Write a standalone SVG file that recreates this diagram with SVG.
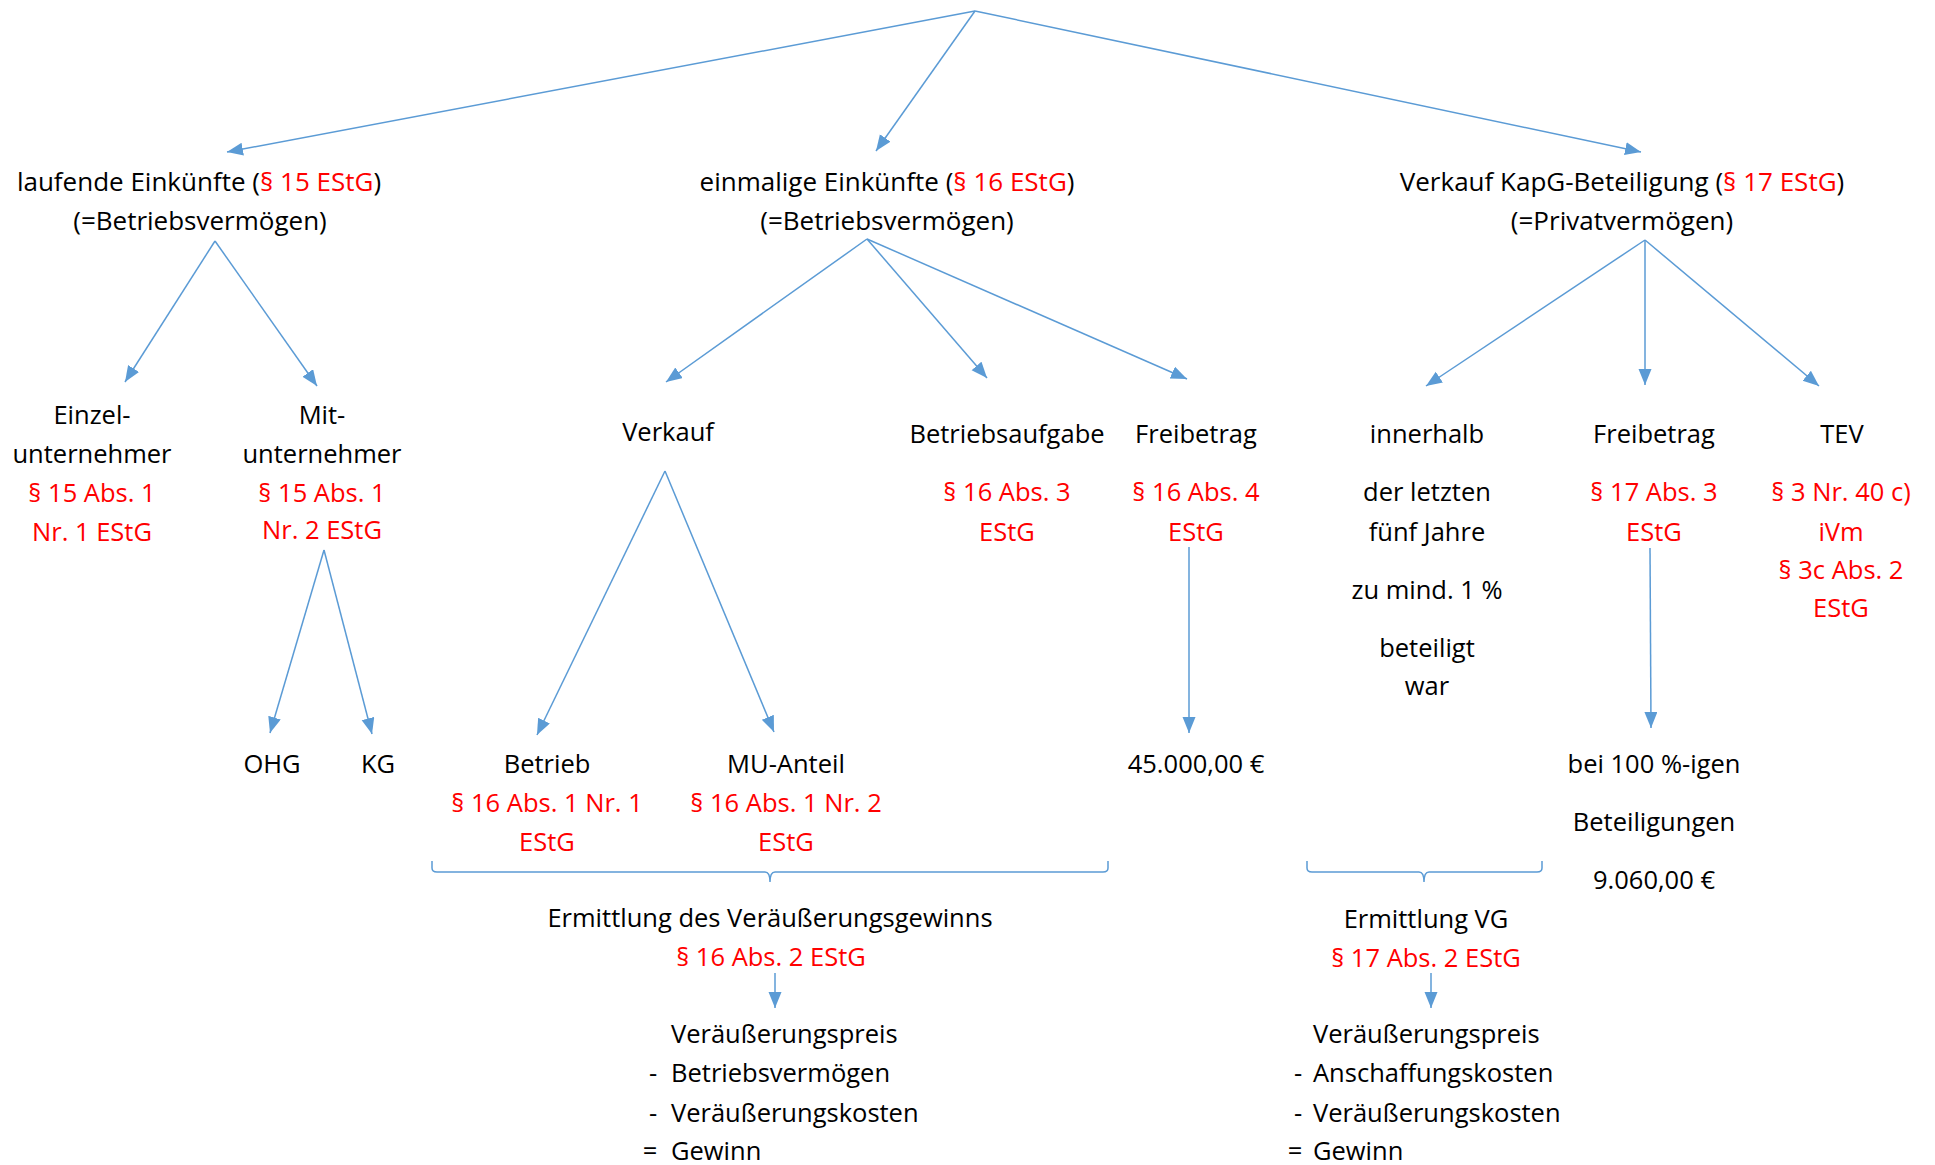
<svg xmlns="http://www.w3.org/2000/svg" width="1935" height="1165" viewBox="0 0 1935 1165">
<style>
text { font-family: "Open Sans", "Noto Sans", "Liberation Sans", sans-serif; font-size: 25.5px; fill: #000000; }
.t1 { font-size: 26px; }
.c { text-anchor: middle; }
.r { fill: #FF0000; }
.ln { stroke: #5B9BD5; stroke-width: 1.5; fill: none; marker-end: url(#ah); }
.br { stroke: #5B9BD5; stroke-width: 1.5; fill: none; }
</style>
<defs>
<marker id="ah" markerUnits="userSpaceOnUse" markerWidth="17" markerHeight="14" refX="16" refY="6.5" orient="auto">
<path d="M0,0 L16,6.5 L0,13 Z" fill="#5B9BD5"/>
</marker>
</defs>
<rect width="1935" height="1165" fill="#FFFFFF"/>

<g id="connectors">
<line class="ln" x1="975" y1="11" x2="227" y2="152"/>
<line class="ln" x1="975" y1="11" x2="876" y2="151"/>
<line class="ln" x1="975" y1="11" x2="1641" y2="152"/>
<line class="ln" x1="215" y1="241" x2="125" y2="382"/>
<line class="ln" x1="215" y1="241" x2="317" y2="386"/>
<line class="ln" x1="867" y1="239" x2="666" y2="382"/>
<line class="ln" x1="867" y1="239" x2="987" y2="378"/>
<line class="ln" x1="867" y1="239" x2="1187" y2="379"/>
<line class="ln" x1="1645" y1="240" x2="1426" y2="386"/>
<line class="ln" x1="1645" y1="240" x2="1645" y2="385"/>
<line class="ln" x1="1645" y1="240" x2="1819" y2="386"/>
<line class="ln" x1="324" y1="550" x2="270" y2="733"/>
<line class="ln" x1="324" y1="550" x2="372" y2="734"/>
<line class="ln" x1="665" y1="471" x2="537" y2="735"/>
<line class="ln" x1="665" y1="471" x2="774" y2="732"/>
<line class="ln" x1="1189" y1="547" x2="1189" y2="733"/>
<line class="ln" x1="1650" y1="548" x2="1651" y2="728"/>
<line class="ln" x1="775" y1="973" x2="775" y2="1008"/>
<line class="ln" x1="1431" y1="973" x2="1431" y2="1008"/>
<path class="br" d="M432,861 L432,868 Q432,872 437,872 L765,872 Q770,872 770,882 Q770,872 775,872 L1103,872 Q1108,872 1108,868 L1108,861"/>
<path class="br" d="M1307,861 L1307,868 Q1307,872 1312,872 L1419,872 Q1424,872 1424,882 Q1424,872 1429,872 L1537,872 Q1542,872 1542,868 L1542,861"/>
</g>

<g id="laufende">
<text class="c t1" x="199" y="191">laufende Einkünfte (<tspan class="r">§ 15 EStG</tspan>)</text>
<text class="c t1" x="200" y="230">(=Betriebsvermögen)</text>
</g>
<g id="einmalige">
<text class="c t1" x="887" y="191">einmalige Einkünfte (<tspan class="r">§ 16 EStG</tspan>)</text>
<text class="c t1" x="887" y="230">(=Betriebsvermögen)</text>
</g>
<g id="kapg">
<text class="c t1" x="1622" y="191">Verkauf KapG-Beteiligung (<tspan class="r">§ 17 EStG</tspan>)</text>
<text class="c t1" x="1622" y="230">(=Privatvermögen)</text>
</g>

<g id="einzel">
<text class="c" x="92" y="424">Einzel-</text>
<text class="c" x="92" y="463">unternehmer</text>
<text class="c r" x="92" y="502">§ 15 Abs. 1</text>
<text class="c r" x="92" y="541">Nr. 1 EStG</text>
</g>
<g id="mit">
<text class="c" x="322" y="424">Mit-</text>
<text class="c" x="322" y="463">unternehmer</text>
<text class="c r" x="322" y="502">§ 15 Abs. 1</text>
<text class="c r" x="322" y="539">Nr. 2 EStG</text>
</g>
<g id="ohg"><text class="c" x="272" y="773">OHG</text></g>
<g id="kg"><text class="c" x="378" y="773">KG</text></g>

<g id="verkauf"><text class="c" x="668" y="441">Verkauf</text></g>
<g id="betriebsaufgabe">
<text class="c" x="1007" y="443">Betriebsaufgabe</text>
<text class="c r" x="1007" y="501">§ 16 Abs. 3</text>
<text class="c r" x="1007" y="541">EStG</text>
</g>
<g id="freibetrag16">
<text class="c" x="1196" y="443">Freibetrag</text>
<text class="c r" x="1196" y="501">§ 16 Abs. 4</text>
<text class="c r" x="1196" y="541">EStG</text>
</g>
<g id="betrag45000"><text class="c" x="1196" y="773">45.000,00 €</text></g>
<g id="betrieb">
<text class="c" x="547" y="773">Betrieb</text>
<text class="c r" x="547" y="812">§ 16 Abs. 1 Nr. 1</text>
<text class="c r" x="547" y="851">EStG</text>
</g>
<g id="muanteil">
<text class="c" x="786" y="773">MU-Anteil</text>
<text class="c r" x="786" y="812">§ 16 Abs. 1 Nr. 2</text>
<text class="c r" x="786" y="851">EStG</text>
</g>

<g id="innerhalb">
<text class="c" x="1427" y="443">innerhalb</text>
<text class="c" x="1427" y="501">der letzten</text>
<text class="c" x="1427" y="541">fünf Jahre</text>
<text class="c" x="1427" y="599">zu mind. 1 %</text>
<text class="c" x="1427" y="657">beteiligt</text>
<text class="c" x="1427" y="695">war</text>
</g>
<g id="freibetrag17">
<text class="c" x="1654" y="443">Freibetrag</text>
<text class="c r" x="1654" y="501">§ 17 Abs. 3</text>
<text class="c r" x="1654" y="541">EStG</text>
</g>
<g id="beteiligungen">
<text class="c" x="1654" y="773">bei 100 %-igen</text>
<text class="c" x="1654" y="831">Beteiligungen</text>
<text class="c" x="1654" y="889">9.060,00 €</text>
</g>
<g id="tev">
<text class="c" x="1842" y="443">TEV</text>
<text class="c r" x="1841" y="501">§ 3 Nr. 40 c)</text>
<text class="c r" x="1841" y="541">iVm</text>
<text class="c r" x="1841" y="579">§ 3c Abs. 2</text>
<text class="c r" x="1841" y="617">EStG</text>
</g>

<g id="ermittlung16">
<text class="c" x="770" y="927">Ermittlung des Veräußerungsgewinns</text>
<text class="c r" x="771" y="966">§ 16 Abs. 2 EStG</text>
</g>
<g id="rechnung16">
<text x="671" y="1043">Veräußerungspreis</text>
<text class="c" x="653" y="1082">-</text>
<text x="671" y="1082">Betriebsvermögen</text>
<text class="c" x="653" y="1122">-</text>
<text x="671" y="1122">Veräußerungskosten</text>
<text class="c" x="650" y="1160">=</text>
<text x="671" y="1160">Gewinn</text>
</g>

<g id="ermittlung17">
<text class="c" x="1426" y="928">Ermittlung VG</text>
<text class="c r" x="1426" y="967">§ 17 Abs. 2 EStG</text>
</g>
<g id="rechnung17">
<text x="1313" y="1043">Veräußerungspreis</text>
<text class="c" x="1298" y="1082">-</text>
<text x="1313" y="1082">Anschaffungskosten</text>
<text class="c" x="1298" y="1122">-</text>
<text x="1313" y="1122">Veräußerungskosten</text>
<text class="c" x="1295" y="1160">=</text>
<text x="1313" y="1160">Gewinn</text>
</g>
</svg>
